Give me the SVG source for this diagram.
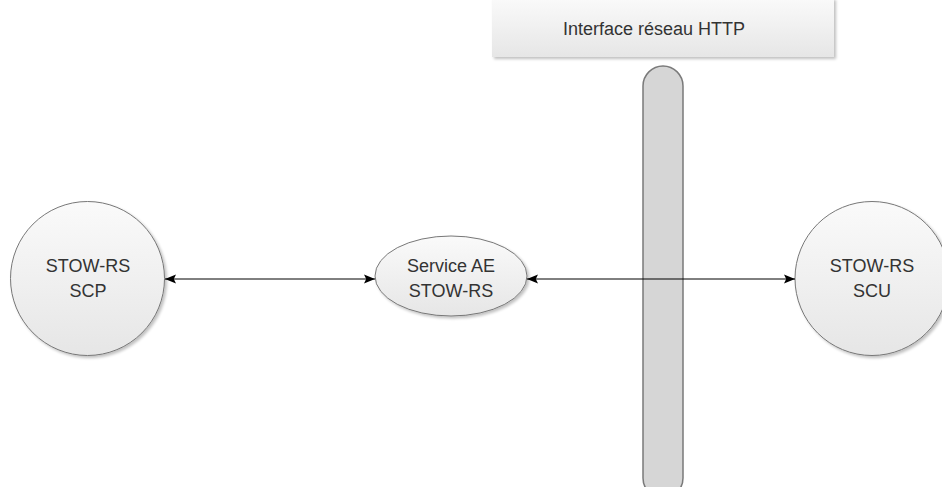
<svg xmlns="http://www.w3.org/2000/svg" width="942" height="487" viewBox="0 0 942 487">
<defs>
<linearGradient id="g" x1="0" y1="0" x2="0" y2="1"><stop offset="0" stop-color="#fafafa"/><stop offset="1" stop-color="#e6e6e6"/></linearGradient>
<filter id="sh" x="-10%" y="-10%" width="130%" height="130%"><feGaussianBlur in="SourceAlpha" stdDeviation="1.5"/><feOffset dx="2" dy="2"/><feComponentTransfer><feFuncA type="linear" slope="0.25"/></feComponentTransfer><feMerge><feMergeNode/><feMergeNode in="SourceGraphic"/></feMerge></filter>
<marker id="ah" viewBox="0 0 10 10" refX="10" refY="5" markerWidth="11" markerHeight="11" markerUnits="userSpaceOnUse" orient="auto-start-reverse"><path d="M0,1 L10,5 L0,9 L2,5 Z" fill="#000"/></marker>
<style>
.node{fill:url(#g);stroke:#777;stroke-width:1;filter:url(#sh)}
.t{font-family:"Liberation Sans",Arial,sans-serif;font-size:18px;fill:#333;text-anchor:middle}
.c{stroke:#000;stroke-width:1;fill:none;marker-start:url(#ah);marker-end:url(#ah)}
</style>
</defs>
<g id="http-box">
<rect x="492" y="-2" width="342" height="59" fill="url(#g)" stroke="none" filter="url(#sh)"/>
<text class="t" x="654" y="35">Interface réseau HTTP</text>
</g>
<g id="bar">
<rect x="643" y="66" width="40" height="432" rx="20" ry="20" fill="#d6d6d6" stroke="#7a7a7a" stroke-width="1.5"/>
</g>
<g id="scp">
<circle class="node" cx="87.5" cy="278.5" r="77"/>
<text class="t" x="88" y="272">STOW-RS</text>
<text class="t" x="88" y="297">SCP</text>
</g>
<g id="service-ae">
<ellipse class="node" cx="451" cy="276" rx="76" ry="40"/>
<text class="t" x="451" y="272">Service AE</text>
<text class="t" x="451" y="297">STOW-RS</text>
</g>
<g id="scu">
<circle class="node" cx="872" cy="278.5" r="77"/>
<text class="t" x="872" y="272">STOW-RS</text>
<text class="t" x="872" y="297">SCU</text>
</g>
<g id="connectors">
<line class="c" x1="165" y1="279" x2="375" y2="279"/>
<line class="c" x1="527" y1="279" x2="795" y2="279"/>
</g>
</svg>
